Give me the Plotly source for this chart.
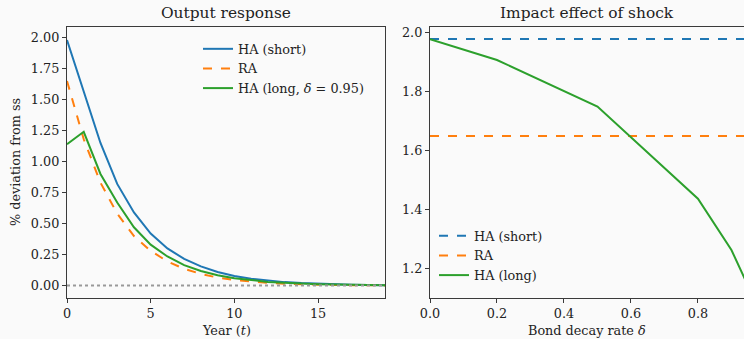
import plotly.graph_objects as go

# ---- data ----
years = list(range(20))
ha_short = [1.98, 1.56, 1.15, 0.82, 0.59, 0.42, 0.30, 0.215, 0.155, 0.11,
            0.078, 0.056, 0.040, 0.028, 0.020, 0.014, 0.010, 0.007, 0.005, 0.0035]
ra = [1.65, 1.18, 0.83, 0.58, 0.40, 0.28, 0.195, 0.135, 0.094, 0.065,
      0.045, 0.031, 0.022, 0.015, 0.010, 0.007, 0.005, 0.0035, 0.0025, 0.0017]
ha_long = [1.14, 1.24, 0.90, 0.67, 0.47, 0.33, 0.235, 0.165, 0.118, 0.084,
           0.060, 0.043, 0.030, 0.022, 0.015, 0.011, 0.008, 0.0055, 0.004, 0.003]
zero_line = [0.0, 0.0]
zero_x = [0, 19]

delta = [0.0, 0.2, 0.5, 0.8, 0.9, 0.95]
impact_long = [1.979, 1.908, 1.75, 1.437, 1.263, 1.14]
impact_short = 1.979
impact_ra = 1.65
delta_span = [0.0, 1.0]

BLUE = "#1f77b4"
ORANGE = "#ff7f0e"
GREEN = "#2ca02c"
FONT = "DejaVu Serif"
AX = "#3a3a3a"
TXT = "#222222"
FS = 12.8
FT = 15.4

fig = go.Figure()

# left panel
fig.add_trace(go.Scatter(x=years, y=ha_short, mode="lines", name="HA (short)",
                         line=dict(color=BLUE, width=2), xaxis="x", yaxis="y", legend="legend"))
fig.add_trace(go.Scatter(x=years, y=ra, mode="lines", name="RA",
                         line=dict(color=ORANGE, width=2, dash="dash"), xaxis="x", yaxis="y", legend="legend"))
fig.add_trace(go.Scatter(x=years, y=ha_long, mode="lines", name="HA (long, <i>δ</i> = 0.95)",
                         line=dict(color=GREEN, width=2), xaxis="x", yaxis="y", legend="legend"))
fig.add_trace(go.Scatter(x=zero_x, y=zero_line, mode="lines", showlegend=False,
                         line=dict(color="#999999", width=2, dash="dot"), xaxis="x", yaxis="y"))

# right panel
fig.add_trace(go.Scatter(x=delta_span, y=[impact_short] * 2, mode="lines", name="HA (short)",
                         line=dict(color=BLUE, width=2, dash="dash"), xaxis="x2", yaxis="y2", legend="legend2"))
fig.add_trace(go.Scatter(x=delta_span, y=[impact_ra] * 2, mode="lines", name="RA",
                         line=dict(color=ORANGE, width=2, dash="dash"), xaxis="x2", yaxis="y2", legend="legend2"))
fig.add_trace(go.Scatter(x=delta, y=impact_long, mode="lines", name="HA (long)",
                         line=dict(color=GREEN, width=2), xaxis="x2", yaxis="y2", legend="legend2"))

W, H = 744, 339
TOP, BOT = 27, 298
mt, mb = TOP, H - BOT
PH = BOT - TOP

def py(px):
    """pixel row -> paper y"""
    return (BOT - px) / PH

axis_common = dict(showline=True, linecolor=AX, linewidth=1.2, ticks="outside",
                   ticklen=4, tickcolor=AX, showgrid=False, zeroline=False, automargin=False,
                   tickfont=dict(family=FONT, size=FS, color=TXT))

fig.update_layout(
    width=W, height=H,
    margin=dict(l=0, r=0, t=mt, b=mb),
    paper_bgcolor="#fafafa", plot_bgcolor="#fafafa",
    font=dict(family=FONT, size=FS, color=TXT),
    xaxis=dict(domain=[67 / W, 385 / W], range=[0, 19], tickvals=[0, 5, 10, 15],
               mirror=True, anchor="y", **axis_common),
    yaxis=dict(domain=[0, 1], range=[-0.1, 2.085], tickvals=[0, 0.25, 0.5, 0.75, 1.0, 1.25, 1.5, 1.75, 2.0],
               tickformat=".2f", mirror=True, anchor="x", **axis_common),
    xaxis2=dict(domain=[430 / W, 1.0], range=[0, 0.9375], tickvals=[0, 0.2, 0.4, 0.6, 0.8],
                tickformat=".1f", mirror=True, anchor="y2", **axis_common),
    yaxis2=dict(domain=[0, 1], range=[1.1, 2.02], tickvals=[1.2, 1.4, 1.6, 1.8, 2.0],
                tickformat=".1f", anchor="x2", **axis_common),
    legend=dict(x=198 / W, y=py(34), xanchor="left", yanchor="top", bgcolor="rgba(0,0,0,0)",
                font=dict(family=FONT, size=FS, color=TXT), tracegroupgap=0),
    legend2=dict(x=434 / W, y=py(290), xanchor="left", yanchor="bottom", bgcolor="rgba(0,0,0,0)",
                 font=dict(family=FONT, size=FS, color=TXT), tracegroupgap=0),
    annotations=[
        dict(text="Output response", x=(67 + 385) / 2 / W, y=py(13), xref="paper", yref="paper",
             xanchor="center", yanchor="middle", showarrow=False, font=dict(family=FONT, size=FT, color=TXT)),
        dict(text="Impact effect of shock", x=(430 + 744) / 2 / W, y=py(13), xref="paper", yref="paper",
             xanchor="center", yanchor="middle", showarrow=False, font=dict(family=FONT, size=FT, color=TXT)),
        dict(text="Year (<i>t</i>)", x=(67 + 385) / 2 / W, y=py(330), xref="paper", yref="paper",
             xanchor="center", yanchor="middle", showarrow=False, font=dict(family=FONT, size=FS, color=TXT)),
        dict(text="Bond decay rate <i>δ</i>", x=(430 + 744) / 2 / W, y=py(330), xref="paper", yref="paper",
             xanchor="center", yanchor="middle", showarrow=False, font=dict(family=FONT, size=FS, color=TXT)),
        dict(text="% deviation from ss", x=15 / W, y=py(162), xref="paper", yref="paper",
             textangle=-90, xanchor="center", yanchor="middle", showarrow=False,
             font=dict(family=FONT, size=FS, color=TXT)),
    ],
)

fig.write_html("out.html", config={"displayModeBar": False},
               post_script="document.body.style.margin='0px';")
